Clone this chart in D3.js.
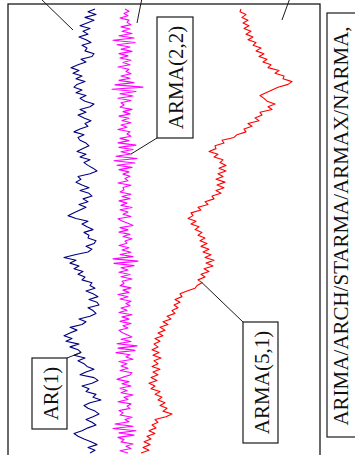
<!DOCTYPE html>
<html>
<head>
<meta charset="utf-8">
<script src="https://cdn.jsdelivr.net/npm/d3@7"></script>
<style>
  html, body { margin: 0; padding: 0; background: #fff; }
  svg { display: block; }
</style>
</head>
<body>
<svg id="chart" width="355" height="455"></svg>
<script>
// Simulated sample paths, first observation first (drawn bottom to top).
const seriesNames = ["AR(1)", "ARMA(2,2)", "ARMA(5,1)"];

const ar1 = [
  0.7, 1.2, 0.5, 1.4, 0.8, 0.1, -0.5, -0.9, -0.1, 0.5,
  1.3, 0.9, 0.3, 1.0, 1.6, 1.2, 0.5, 0.1, 0.7, 1.8,
  1.0, 1.3, 0.3, 0.6, -0.1, 0.9, 1.5, 1.1, -0.3, 0.3,
  1.1, 0.4, 0.1, -0.5, 0.2, -0.9, -0.2, -0.5, -1.3, -0.4,
  -1.7, -1.1, -1.9, -1.3, -0.6, -1.3, -0.1, 0.3, -0.4, 0.7,
  1.3, 1.0, 0.5, 1.6, 1.4, 0.6, 1.5, 1.0, 0.3, 1.2,
  0.7, 0.9, -0.1, 0.2, -0.5, 0.0, -0.9, -0.4, -1.3, -0.7,
  -1.9, -0.8, 0.5, 0.9, 0.3, 1.1, 1.3, 0.5, 0.6, 0.1,
  1.0, 0.4, -0.1, 0.5, -0.7, -1.5, -0.9, -0.3, 0.3, -0.4,
  0.5, 0.0, 0.9, 0.6, -0.3, 0.6, -0.1, -0.7, -0.2, -0.5,
  0.7, 1.4, 1.0, 0.5, 0.1, 0.7, -0.3, 0.3, -0.6, 0.0,
  0.6, 0.3, -0.3, -0.5, 0.1, -0.9, -0.3, 0.5, 0.2, 0.8,
  0.1, -0.5, 0.3, -0.3, 0.7, 1.1, 0.2, -0.3, 0.3, -0.7,
  -0.1, -0.9, -0.6, 0.2, -0.7, -0.1, -1.0, -0.4, -1.2, -0.5,
  0.3, -0.2, 0.9, 1.1, 0.2, 0.4, -0.1, 0.8, 0.3, -0.4,
  0.5, 0.0, 0.7, -0.3, 0.4, 1.1, 0.2, 1.3, 0.5, 1.2
];

const arma22 = [
  0.3, -0.5, 0.6, 0.1, 0.8, -0.4, -0.1, -0.7, 0.9, -0.6,
  1.1, -1.2, 0.8, -1.0, 0.4, 0.0, 0.7, -0.5, -0.2, -0.6,
  0.5, 0.2, 0.6, -0.7, 0.3, -0.1, 0.8, -0.4, 0.2, -0.5,
  0.6, -0.3, 0.4, -0.8, -0.2, 0.5, 0.7, -0.5, 0.3, -0.4,
  0.2, -0.6, 0.8, 0.1, 0.5, -0.9, 1.0, -0.7, 1.2, -0.8,
  0.6, -0.4, 0.7, 0.2, -0.3, -0.6, 0.3, -0.2, 0.6, -0.5,
  0.4, -0.3, 0.7, -0.6, 0.2, -0.4, 0.5, 0.1, 0.6, -0.5,
  0.3, -0.7, 0.4, -0.2, 0.6, -0.5, -0.1, -0.3, 0.7, -0.4,
  0.5, -0.6, 0.3, -0.4, 0.9, -1.1, 1.3, -1.2, 0.8, -0.5,
  0.6, -0.3, 0.4, -0.6, 0.2, 0.0, 0.7, -0.2, 0.5, -0.6,
  0.3, -0.5, 0.8, 0.3, -0.3, -0.7, 0.6, -0.2, 0.3, -0.5,
  0.7, -0.4, 0.2, -0.6, 0.5, -0.3, 0.6, -0.5, -0.1, -0.2,
  0.6, -0.7, 0.3, 0.0, 0.5, -0.2, 0.4, -0.6, 0.7, -0.8,
  1.0, -1.1, 1.2, -0.9, 0.6, -0.4, 0.8, -0.6, 1.1, -0.7,
  0.4, -0.5, 0.6, 0.2, 0.5, -0.7, 0.2, -0.4, 0.6, -0.3,
  0.4, -0.6, 0.5, -0.2, 0.7, -0.5, -0.1, -0.4, 0.6, -0.7,
  0.8, -0.5, 1.1, -1.3, 1.8, -1.0, 0.9, -0.6, 0.5, -0.4,
  0.6, 0.1, 0.4, -0.7, 0.5, -0.2, 0.6, -0.5, 0.3, -0.6,
  0.7, -0.4, 0.5, -0.8, 1.0, -1.2, 0.9, -0.6, 0.7, -0.3,
  0.5, -0.4, 0.6, 0.2, 0.4, -0.5, 0.3, -0.1, 0.4, 0.0
];

const arma51 = [
  -0.4, 0.4, -0.2, 0.5, -0.1, 0.6, 0.2, 1.0, 0.4, 1.1,
  0.7, 1.3, 1.0, 2.1, 2.7, 1.8, 2.2, 1.5, 2.0, 1.3,
  1.7, 1.0, 1.5, 0.6, 1.0, 0.4, 1.2, 0.6, 1.3, 0.8,
  1.5, 0.7, 1.3, 0.9, 1.6, 0.8, 1.4, 0.7, 1.3, 0.9,
  1.5, 1.0, 1.8, 1.3, 2.0, 1.5, 2.3, 1.8, 2.6, 2.2,
  3.0, 2.7, 3.3, 2.9, 3.5, 3.0, 3.7, 3.5, 4.2, 5.0,
  5.2, 5.7, 5.3, 6.0, 5.6, 6.4, 5.9, 6.8, 6.1, 6.9,
  6.0, 6.6, 5.8, 6.4, 5.6, 6.2, 5.5, 6.0, 5.3, 5.7,
  5.0, 5.4, 4.6, 5.1, 4.3, 4.8, 4.6, 5.6, 5.3, 6.3,
  6.0, 6.9, 6.7, 7.6, 7.1, 7.9, 7.2, 8.0, 7.1, 7.8,
  7.3, 8.1, 7.4, 8.1, 7.5, 7.8, 6.9, 7.3, 6.4, 7.1,
  7.0, 7.9, 7.7, 8.9, 9.2, 10.1, 9.9, 10.7, 10.3, 11.4,
  11.0, 11.7, 11.5, 12.7, 12.3, 13.0, 12.2, 11.9, 11.5, 12.1,
  12.7, 13.3, 14.3, 14.7, 13.8, 13.9, 13.0, 13.4, 12.3, 12.6,
  11.8, 12.2, 11.4, 11.9, 11.1, 11.6, 10.8, 11.1, 10.3, 10.8,
  10.1, 10.6, 9.9, 10.4, 9.8, 10.3, 9.7, 10.1, 9.5, 9.6
];

const familyLabel = "ARIMA/ARCH/STARMA/ARMAX/NARMA,";

// ---- layout ----
const frame = { left: 8, top: 4, right: 320, bottom: 470 };
const sideBox = { left: 327, top: 13, right: 380, bottom: 437 };
const serif = "'Liberation Serif', 'Times New Roman', Times, serif";
const labelSize = 21;

const svg = d3.select("#chart");

// value axis runs horizontally, 10 px per unit
const x = d3.scaleLinear().domain([0, 31.2]).range([frame.left, frame.right]);

const series = [
  { name: "AR(1)",     values: ar1,    base: 7.5,  color: "#000080" },
  { name: "ARMA(2,2)", values: arma22, base: 11.7, color: "#ff00ff" },
  { name: "ARMA(5,1)", values: arma51, base: 13.7, color: "#ff0000" }
];

series.forEach(s => {
  s.y = d3.scaleLinear().domain([0, s.values.length - 1]).range([453, 9]);
  s.px = i => x(s.base + s.values[i]);
  s.py = i => s.y(i);
});

// outer frame and side box
svg.append("rect")
  .attr("x", frame.left).attr("y", frame.top)
  .attr("width", frame.right - frame.left).attr("height", frame.bottom - frame.top)
  .attr("fill", "none").attr("stroke", "#1a1a1a").attr("stroke-width", 1.3);

svg.append("rect")
  .attr("x", sideBox.left).attr("y", sideBox.top)
  .attr("width", sideBox.right - sideBox.left).attr("height", sideBox.bottom - sideBox.top)
  .attr("fill", "none").attr("stroke", "#1a1a1a").attr("stroke-width", 1.2);

svg.append("text")
  .attr("transform", `translate(${sideBox.left + 14},${(sideBox.top + sideBox.bottom) / 2 + 1}) rotate(-90)`)
  .attr("text-anchor", "middle")
  .attr("dominant-baseline", "central")
  .attr("font-family", serif)
  .attr("font-size", labelSize)
  .attr("fill", "#111")
  .text(familyLabel);

// the three paths
series.forEach(s => {
  const line = d3.line()
    .x((d, i) => s.px(i))
    .y((d, i) => s.py(i));
  svg.append("path")
    .datum(s.values)
    .attr("d", line)
    .attr("fill", "none")
    .attr("stroke", s.color)
    .attr("stroke-width", 1.1)
    .attr("stroke-linejoin", "round");
});

// callout boxes with leader lines to a point on each path
const callouts = [
  { name: "AR(1)",     cx: 49.5,  cy: 393.5, w: 35, h: 71,  corner: "tr", at: 36 },
  { name: "ARMA(2,2)", cx: 175,   cy: 77.5,  w: 36, h: 121, corner: "bl", at: 134 },
  { name: "ARMA(5,1)", cx: 260.5, cy: 382.5, w: 35, h: 121, corner: "tl", at: 61 }
];

const leaderG = svg.append("g").attr("stroke", "#1a1a1a").attr("stroke-width", 1);

callouts.forEach(c => {
  const s = series.find(d => d.name === c.name);
  const x0 = c.cx - c.w / 2, y0 = c.cy - c.h / 2;
  const cornerX = c.corner.includes("l") ? x0 : x0 + c.w;
  const cornerY = c.corner.includes("t") ? y0 : y0 + c.h;
  leaderG.append("line")
    .attr("x1", cornerX).attr("y1", cornerY)
    .attr("x2", s.px(c.at)).attr("y2", s.py(c.at));

  svg.append("rect")
    .attr("x", x0).attr("y", y0).attr("width", c.w).attr("height", c.h)
    .attr("fill", "#fff").attr("stroke", "#1a1a1a").attr("stroke-width", 1.2);

  svg.append("text")
    .attr("transform", `translate(${c.cx + 1},${c.cy}) rotate(-90)`)
    .attr("text-anchor", "middle")
    .attr("dominant-baseline", "central")
    .attr("font-family", serif)
    .attr("font-size", labelSize)
    .attr("fill", "#111")
    .text(c.name);
});

// leaders running up to the callouts of the panel above
const upperLeaders = [
  { name: "AR(1)",     from: [40, -2],  to: [73, 30] },
  { name: "ARMA(2,2)", from: [142, -2], to: [137, 23] },
  { name: "ARMA(5,1)", from: [290, -2], to: [282, 20] }
];
upperLeaders.forEach(l => {
  leaderG.append("line")
    .attr("x1", l.from[0]).attr("y1", l.from[1])
    .attr("x2", l.to[0]).attr("y2", l.to[1]);
});
</script>
</body>
</html>
